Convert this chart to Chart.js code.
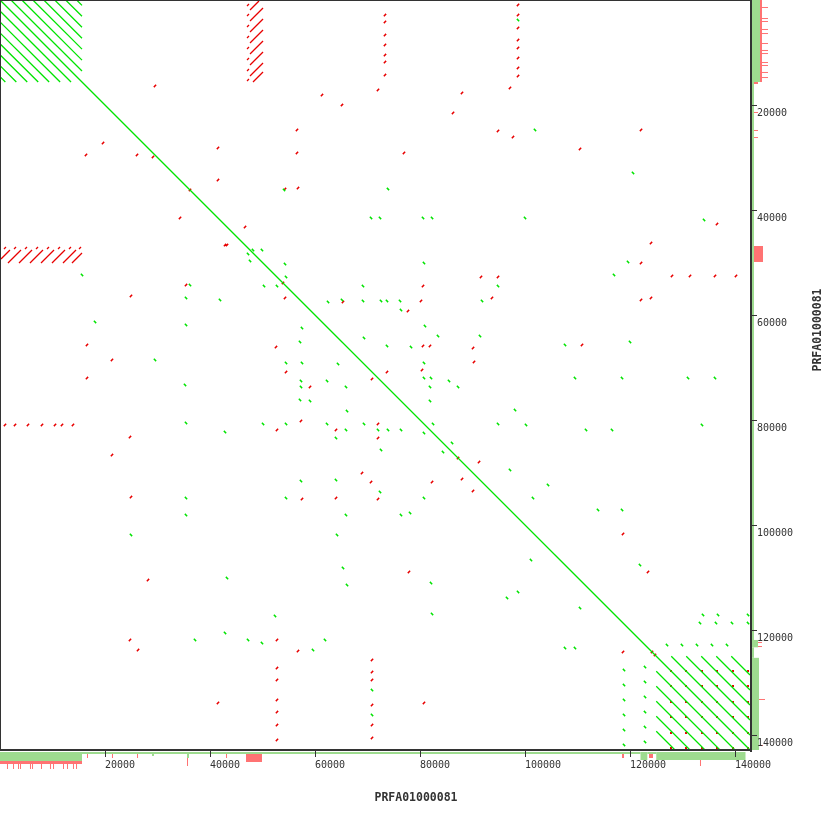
<!DOCTYPE html>
<html>
<head>
<meta charset="utf-8">
<title>PRFA01000081 self dot plot</title>
<script src="https://cdn.jsdelivr.net/npm/chart.js@4.4.1/dist/chart.umd.min.js"></script>
<style>
  html, body { margin: 0; padding: 0; background: #fff; }
  canvas { display: block; }
</style>
</head>
<body>
<canvas id="chart-area" width="830" height="830"></canvas>
<script>
// sequence compared against itself (positions in bp)
var seqName = "PRFA01000081";
var seqLength = 142857;
var tickValues = [20000, 40000, 60000, 80000, 100000, 120000, 140000];

// main identity diagonal [x1, y1, x2, y2]
var mainDiagonal = [[0, 0, 142857, 142857]];

// tandem repeat block at the start of the sequence (forward)
var tandemFwd = [
    [2090, 0, 15620, 13530], [4170, 0, 15620, 11450], [6260, 0, 15620, 9360],
    [8340, 0, 15620, 7280], [10430, 0, 15620, 5190], [12510, 0, 15620, 3110],
    [14600, 0, 15620, 1020],
    [0, 2090, 13530, 15620], [0, 4170, 11450, 15620], [0, 6260, 9360, 15620],
    [0, 8340, 7280, 15620], [0, 10430, 5190, 15620], [0, 12510, 3110, 15620],
    [0, 14600, 1020, 15620]
];

// tandem repeat block at the end of the sequence (forward)
var endBlockFwd = [
    [127860, 125000, 142857, 140000], [130710, 125000, 142857, 137150],
    [133570, 125000, 142857, 134290], [136430, 125000, 142857, 131430],
    [139290, 125000, 142857, 128570],
    [125000, 127860, 140000, 142857], [125000, 130710, 137150, 142857],
    [125000, 133570, 134290, 142857], [125000, 136430, 131430, 142857],
    [125000, 139290, 128570, 142857]
];

// inverted repeats, block near 47-50 kb against the first 15 kb
var invertedTop = [
    [47620, 1900, 49330, 190], [47620, 4000, 50100, 1520], [47620, 6100, 50100, 3620],
    [47620, 8190, 50100, 5710], [47620, 10290, 50100, 7810], [47620, 12380, 50100, 9900],
    [47620, 14480, 50100, 12000], [48190, 15620, 50100, 13710],
    [47050, 1140, 47430, 760], [47050, 3050, 47430, 2670], [47050, 5140, 47430, 4760],
    [47050, 7240, 47430, 6860], [47050, 9330, 47430, 8950], [47050, 11430, 47430, 11050],
    [47050, 13520, 47430, 13140], [47050, 15430, 47430, 15050]
];
var invertedLeft = [
    [1900, 47620, 190, 49330], [4000, 47620, 1520, 50100], [6100, 47620, 3620, 50100],
    [8190, 47620, 5710, 50100], [10290, 47620, 7810, 50100], [12380, 47620, 9900, 50100],
    [14480, 47620, 12000, 50100], [15620, 48190, 13710, 50100],
    [1140, 47050, 760, 47430], [3050, 47050, 2670, 47430], [5140, 47050, 4760, 47430],
    [7240, 47050, 6860, 47430], [9330, 47050, 8950, 47430], [11430, 47050, 11050, 47430],
    [13520, 47050, 13140, 47430], [15430, 47050, 15050, 47430]
];

// short forward hits [x, y] (centre of each hit)
var fwdHits = [
    [98670, 3810], [101900, 24760], [120570, 32950], [73900, 36000],
    [70670, 41520], [72380, 41520], [80570, 41520], [82290, 41520], [100000, 41520], [134100, 41900],
    [48190, 47620], [49900, 47620], [119620, 49900], [15620, 52380], [116950, 52380],
    [35430, 56760], [41900, 57140], [18100, 61330], [35430, 61900], [107620, 65710], [120000, 65140],
    [29520, 68570], [35240, 73330], [109520, 72000], [118480, 72000], [131050, 72000], [136190, 72000],
    [98100, 78100], [35430, 80570], [42860, 82290], [100190, 80950], [111620, 81900], [116570, 81900], [133710, 80950],
    [35430, 94860], [101520, 94860], [104380, 92380], [113900, 97140], [118480, 97140], [78100, 97710], [97140, 89520],
    [24950, 101900], [35430, 98100], [64190, 101900], [65900, 98100], [76380, 98100],
    [43240, 110100], [65330, 108190], [66100, 111430], [82100, 111050], [101140, 106670], [121900, 107620], [110480, 115810],
    [52380, 117330], [82290, 116950], [96570, 113900], [98670, 112760],
    [37140, 121900], [42860, 120570], [47240, 121900], [49900, 122480], [59620, 123810], [61900, 121900],
    [107620, 123430], [109520, 123430],
    [133900, 117140], [136760, 117140], [142480, 117140], [133330, 118670], [136380, 118670], [139430, 118670], [142480, 118670],
    [118860, 127620], [118860, 130480], [118860, 133330], [118860, 136190], [118860, 139050], [118860, 141900],
    [70860, 131430], [70860, 136190],
    [54100, 36190], [36190, 54290], [47240, 48380], [47620, 49710],
    [54290, 50290], [54480, 52760], [50290, 54480], [52760, 54480], [69140, 54480], [80760, 50100],
    [62480, 57520], [65140, 57140], [69140, 57330], [72570, 57330], [73710, 57330], [76190, 57330],
    [76380, 59050], [91810, 57330], [94860, 54480], [57520, 62480], [80950, 62100], [83430, 64000],
    [91430, 64000], [69330, 64380], [57140, 65140], [73710, 65900], [78290, 66100], [54480, 69140],
    [57520, 69140], [64380, 69330], [80760, 69140], [80760, 72000], [82100, 72000], [57330, 72570],
    [62290, 72570], [65900, 73710], [57330, 73710], [81900, 73710], [85520, 72570], [87240, 73710],
    [57140, 76190], [59050, 76380], [81900, 76380], [66100, 78290], [50100, 80760], [54480, 80760],
    [62290, 80760], [69330, 80760], [72000, 81900], [73900, 81900], [76380, 81900], [65900, 81900],
    [64000, 83430], [80760, 82480], [82480, 80760], [94860, 80760], [72570, 85710], [84380, 86100],
    [86100, 84380], [57330, 91620], [64000, 91430], [72380, 93710], [54480, 94860], [80760, 94860],
    [122860, 127050], [122860, 129900], [122860, 132760], [122860, 135620], [122860, 138480], [122860, 141330],
    [127050, 122860], [129900, 122860], [132760, 122860], [135620, 122860], [138480, 122860]
];

// short reverse-complement hits [x, y]
var revHits = [
    [73330, 2860], [73330, 4190], [73330, 6670], [73330, 8570], [73330, 10480], [73330, 11810], [73330, 14290],
    [98670, 950], [98670, 2860], [98670, 5330], [98670, 7620], [98670, 9140], [98670, 11050], [98670, 12950], [98670, 14480],
    [29520, 16380], [72000, 17140], [61330, 18100], [65140, 20000], [88000, 17710], [97140, 16760], [86290, 21520],
    [56570, 24760], [94860, 24950], [97710, 26100], [122100, 24760], [19620, 27240],
    [16380, 29520], [26100, 29520], [29140, 29900], [41520, 28190], [56570, 29140], [76950, 29140], [110480, 28380],
    [41520, 34290], [54290, 36000], [56760, 35810], [34290, 41520], [136570, 42670],
    [42860, 46670], [46670, 43240], [43240, 46670], [124000, 46290], [122100, 50100],
    [128000, 52570], [131430, 52570], [136190, 52570], [140190, 52570],
    [24950, 56380], [35430, 54290], [122100, 57140], [124000, 56760], [54290, 56760], [53900, 53900], [36190, 36190],
    [16570, 65710], [110860, 65710], [21330, 68570], [16570, 72000],
    [950, 80950], [2860, 80950], [5330, 80950], [8000, 80950], [10480, 80950], [11810, 80950], [13900, 80950],
    [24760, 83240], [21330, 86670], [24950, 94670], [118670, 101710], [28190, 110480], [77900, 108950], [123430, 108950],
    [24760, 121900], [26290, 123810], [56760, 124000], [118670, 124190],
    [52760, 121900], [52760, 127240], [52760, 129520], [52760, 133330], [52760, 135620], [52760, 138100], [52760, 140950],
    [70860, 125710], [70860, 128000], [70860, 129520], [70860, 134290], [70860, 138100], [70860, 140570],
    [41520, 133900], [80760, 133900], [124190, 124190], [124760, 124760],
    [91620, 52760], [94860, 52760], [65330, 57520], [80190, 57330], [77710, 59240], [93710, 56760],
    [80570, 54480], [52570, 66100], [90100, 66290], [81900, 65900], [90290, 68950], [54480, 70860],
    [73710, 70860], [70860, 72190], [59050, 73710], [57330, 80190], [52760, 81900], [64000, 81900],
    [72000, 80760], [72000, 83430], [87240, 87240], [91240, 88000], [68950, 90100], [70670, 91810],
    [82290, 91810], [88000, 91240], [90100, 93520], [64000, 94860], [57520, 95050], [72000, 95050],
    [80380, 70480], [80570, 65900]
];

// reverse hits where the end-block repeat units cross
var endBlockRev = [
    [127810, 127810], [130670, 127810], [133720, 127810], [136570, 127810], [139620, 127810], [142480, 127810],
    [127810, 130670], [130670, 130670], [133720, 130670], [136570, 130670], [139620, 130670], [142480, 130670],
    [127810, 133720], [130670, 133720], [133720, 133720], [136570, 133720], [139620, 133720], [142480, 133720],
    [127810, 136570], [130670, 136570], [133720, 136570], [136570, 136570], [139620, 136570], [142480, 136570],
    [127810, 139620], [130670, 139620], [133720, 139620], [136570, 139620], [139620, 139620], [142480, 139620],
    [127810, 142480], [130670, 142480], [133720, 142480], [136570, 142480], [139620, 142480], [142480, 142480]
];

// coverage profiles in the margins [start, end, depth]
var coverBottomFwd = [
    [0, 15620, 4.5], [15620, 122000, 1], [122000, 123300, 4], [123300, 125000, 1],
    [125000, 142000, 4], [35620, 36000, 3], [28950, 29330, 2]
];
var coverBottomRev = [
    [0, 15620, 1.5],
    [1330, 1520, 4], [2480, 2670, 4], [3430, 3620, 4], [3810, 4000, 4], [5710, 5900, 4],
    [6100, 6290, 4], [7810, 8000, 4], [9520, 9710, 4], [10100, 10290, 4], [12000, 12190, 4],
    [12760, 12950, 4], [13900, 14090, 4], [14480, 14670, 4],
    [16570, 16760, 2], [21330, 21520, 2], [26100, 26290, 2], [35620, 35810, 4], [43050, 43240, 2],
    [46860, 49900, 4], [118480, 118860, 2], [123620, 124380, 2], [133330, 133520, 3]
];
var coverRightFwd = [
    [0, 15620, 4], [15620, 121900, 1], [121900, 123300, 3], [123300, 125300, 1], [125300, 142857, 3.5]
];
var coverRightRev = [
    [0, 15620, 1],
    [1330, 1520, 4], [3430, 3620, 4], [4000, 4190, 4], [5520, 5710, 4], [6290, 6480, 4],
    [8190, 8380, 4], [9520, 9710, 4], [10100, 10290, 4], [11810, 12000, 4], [12380, 12570, 4],
    [13710, 13900, 4], [14670, 14860, 4],
    [15620, 16000, 2], [21330, 21520, 2], [24760, 24950, 2], [26100, 26290, 2],
    [46860, 49900, 4.5], [122290, 122480, 2], [123050, 123240, 2], [133140, 133330, 3], [141900, 142100, 2]
];

var HIT_HALF = 220;
var STRIP_UNIT = 2;
var FWD = "#00e400";
var REV = "#e80000";

function segData(list) {
    var pts = [];
    list.forEach(function(s) {
        pts.push({x: s[0], y: s[1]}, {x: s[2], y: s[3]}, {x: s[2], y: null});
    });
    return pts;
}
function hitData(list, dir) {
    var pts = [];
    list.forEach(function(h) {
        pts.push({x: h[0] - HIT_HALF, y: h[1] - dir * HIT_HALF},
                 {x: h[0] + HIT_HALF, y: h[1] + dir * HIT_HALF},
                 {x: h[0], y: null});
    });
    return pts;
}
function lineSet(data, color, width) {
    return {data: data, borderColor: color, backgroundColor: color, borderWidth: width,
            pointRadius: 0, spanGaps: false, tension: 0, fill: false};
}

function depthAt(list, v) {
    var d = 0;
    list.forEach(function(c) { if (v >= c[0] && v < c[1]) d = Math.max(d, c[2]); });
    return d;
}

var dotAxes = {
    id: 'dotAxes',
    afterDraw: function(chart) {
        var ctx = chart.ctx, a = chart.chartArea;
        var xs = chart.scales.x, ys = chart.scales.y;
        var edge = a.bottom + 2, redge = a.right + 2;
        ctx.save();

        // margin coverage strips
        ctx.fillStyle = "#9edb8f";
        coverBottomFwd.forEach(function(c) {
            var x1 = xs.getPixelForValue(c[0]), x2 = xs.getPixelForValue(c[1]);
            ctx.fillRect(x1, edge, Math.max(1, x2 - x1), c[2] * STRIP_UNIT);
        });
        coverRightFwd.forEach(function(c) {
            var y1 = ys.getPixelForValue(c[0]), y2 = ys.getPixelForValue(c[1]);
            ctx.fillRect(redge, y1, c[2] * STRIP_UNIT, Math.max(1, y2 - y1));
        });
        ctx.fillStyle = "#ff7373";
        coverBottomRev.forEach(function(c) {
            var x1 = xs.getPixelForValue(c[0]), x2 = xs.getPixelForValue(c[1]);
            var off = depthAt(coverBottomFwd, c[0]) * STRIP_UNIT;
            ctx.fillRect(x1, edge + off, Math.max(1, x2 - x1), c[2] * STRIP_UNIT);
        });
        coverRightRev.forEach(function(c) {
            var y1 = ys.getPixelForValue(c[0]), y2 = ys.getPixelForValue(c[1]);
            var off = depthAt(coverRightFwd, c[0]) * STRIP_UNIT;
            ctx.fillRect(redge + off, y1, c[2] * STRIP_UNIT, Math.max(1, y2 - y1));
        });

        // frame
        ctx.fillStyle = "#333";
        ctx.fillRect(a.left, a.top, 1, a.bottom - a.top);
        ctx.fillRect(a.left, a.top, a.right - a.left, 1);
        ctx.fillRect(a.right, a.top, 2, a.bottom - a.top + 2);
        ctx.fillRect(a.left, a.bottom - 1, a.right - a.left + 2, 2);

        // ticks and tick labels
        ctx.font = "10px 'DejaVu Sans Mono', monospace";
        ctx.textBaseline = "alphabetic";
        ctx.textAlign = "left";
        tickValues.forEach(function(v) {
            var px = Math.round(xs.getPixelForValue(v));
            ctx.fillRect(px, a.bottom + 1, 1, 6);
            ctx.fillText(String(v), px, a.bottom + 17.5);
            var py = Math.round(ys.getPixelForValue(v));
            ctx.fillRect(a.right + 1, py, 6, 1);
            ctx.fillText(String(v), a.right + 7, py + 11);
        });

        // axis titles
        ctx.font = "bold 11.5px 'DejaVu Sans Mono', monospace";
        ctx.textAlign = "center";
        ctx.fillText(seqName, 416, 801);
        ctx.translate(821, 330);
        ctx.rotate(-Math.PI / 2);
        ctx.fillText(seqName, 0, 0);
        ctx.restore();
    }
};

var config = {
    type: 'line',
    data: {
        datasets: [
            lineSet(segData(tandemFwd), FWD, 1.3),
            lineSet(segData(endBlockFwd), FWD, 1.3),
            lineSet(segData(mainDiagonal), FWD, 1.3),
            lineSet(hitData(fwdHits, 1), FWD, 1.5),
            lineSet(segData(invertedTop), REV, 1.3),
            lineSet(segData(invertedLeft), REV, 1.3),
            lineSet(hitData(revHits, -1), REV, 1.5),
            {
                type: 'scatter',
                data: endBlockRev.map(function(p) { return {x: p[0], y: p[1]}; }),
                showLine: false, pointStyle: 'rect', pointRadius: 1.4,
                backgroundColor: REV, borderColor: REV, borderWidth: 0
            }
        ]
    },
    options: {
        responsive: false,
        animation: false,
        events: [],
        layout: { autoPadding: false, padding: { left: 0, top: 0, right: 80, bottom: 80 } },
        plugins: { legend: { display: false }, tooltip: { enabled: false } },
        scales: {
            x: { type: 'linear', min: 0, max: seqLength, display: false },
            y: { type: 'linear', min: 0, max: seqLength, reverse: true, display: false }
        }
    },
    plugins: [dotAxes]
};

var ctx = document.getElementById("chart-area").getContext("2d");
var dotPlot = new Chart(ctx, config);
</script>
</body>
</html>
